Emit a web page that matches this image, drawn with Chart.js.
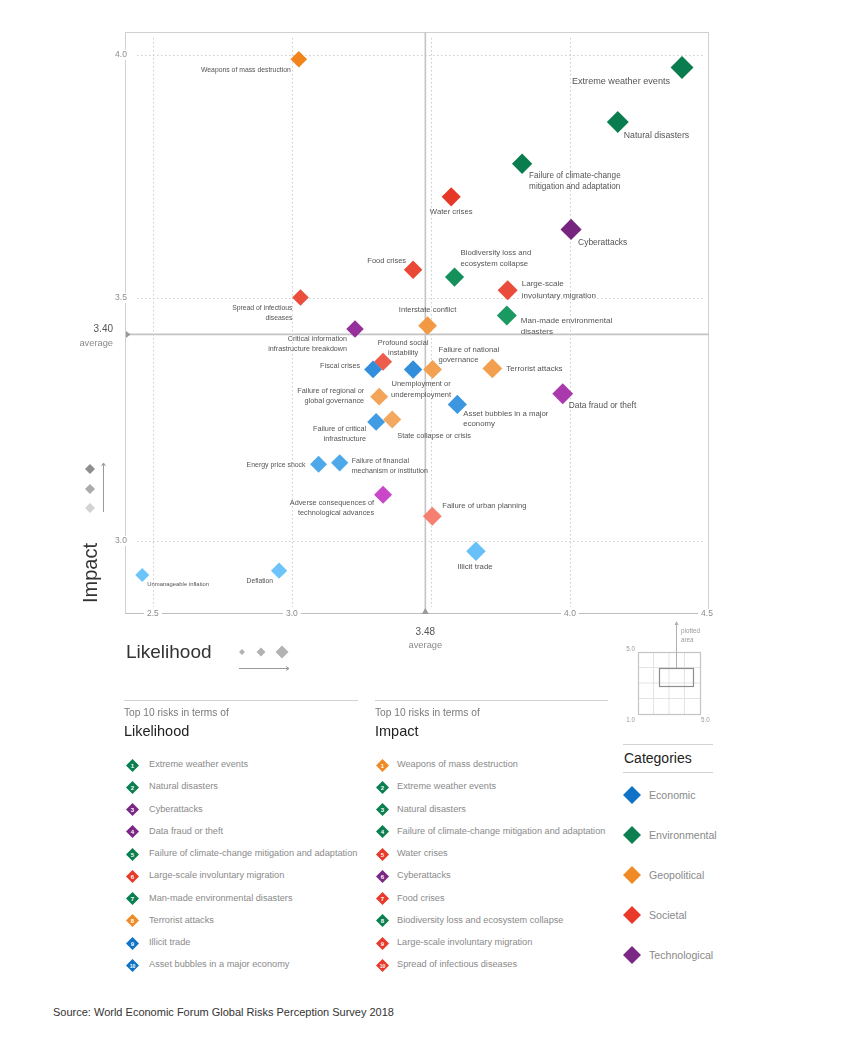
<!DOCTYPE html>
<html>
<head>
<meta charset="utf-8">
<script src="https://cdn.jsdelivr.net/npm/chart.js@4.4.0/dist/chart.umd.min.js"></script>
<style>
  body { margin: 0; background: #fff; font-family: "Liberation Sans", Arial, sans-serif; }
  #page { position: relative; width: 850px; height: 1047px; overflow: hidden; background: #fff; }
  #chart { position: absolute; left: 0; top: 0; }
  .abs { position: absolute; white-space: nowrap; line-height: 1; }
  .rule { position: absolute; height: 0; border-top: 1px solid #d2d2d2; }
  .mid { transform: translateY(-50%); }
</style>
</head>
<body>
<div id="page">
  <canvas id="chart" width="850" height="700"></canvas>

  <!-- small key showing which part of the 1-5 range is plotted -->
  <svg class="abs" style="left:0;top:0" width="850" height="740">
    <g stroke="#e3e3e3" stroke-width="1">
      <line x1="653.5" y1="652" x2="653.5" y2="714" />
      <line x1="669" y1="652" x2="669" y2="714" />
      <line x1="684.5" y1="652" x2="684.5" y2="714" />
      <line x1="638" y1="667.5" x2="700" y2="667.5" />
      <line x1="638" y1="683" x2="700" y2="683" />
      <line x1="638" y1="698.5" x2="700" y2="698.5" />
    </g>
    <rect x="638.5" y="652.5" width="62" height="62" fill="none" stroke="#c4c4c4" stroke-width="1.2" />
    <rect x="659.5" y="668.5" width="34" height="18" fill="none" stroke="#8e8e8e" stroke-width="1.2" />
    <line x1="676.5" y1="624" x2="676.5" y2="668" stroke="#b0b0b0" stroke-width="1" />
    <polygon points="674.5,625 678.5,625 676.5,621" fill="#b0b0b0" />
    <g font-family="Liberation Sans, Arial, sans-serif" font-size="6.3" fill="#9a9a9a">
      <text x="681" y="633">plotted</text>
      <text x="681" y="642">area</text>
      <text x="635" y="651" text-anchor="end">5.0</text>
      <text x="635" y="722" text-anchor="end">1.0</text>
      <text x="701" y="722">5.0</text>
    </g>
  </svg>

  <div class="rule" style="left:124px;top:700px;width:234px"></div>
  <div class="rule" style="left:375px;top:700px;width:233px"></div>
  <div class="abs mid" style="left:124px;top:713px;font-size:10.2px;color:#7a7a7a">Top 10 risks in terms of</div>
  <div class="abs mid" style="left:375px;top:713px;font-size:10.2px;color:#7a7a7a">Top 10 risks in terms of</div>
  <div class="abs mid" style="left:124px;top:731px;font-size:14.5px;color:#222">Likelihood</div>
  <div class="abs mid" style="left:375px;top:731px;font-size:14.5px;color:#222">Impact</div>

  <div class="rule" style="left:623px;top:744px;width:90px"></div>
  <div class="abs mid" style="left:624px;top:758px;font-size:14px;color:#222">Categories</div>
  <div class="rule" style="left:623px;top:772px;width:90px"></div>

  <div class="abs mid" style="left:53px;top:1012px;font-size:11px;color:#333">Source: World Economic Forum Global Risks Perception Survey 2018</div>
</div>

<script>
// ---- data ----
const risks = [
  "Weapons of mass destruction", "Extreme weather events", "Natural disasters",
  "Failure of climate-change mitigation and adaptation", "Water crises", "Cyberattacks",
  "Food crises", "Biodiversity loss and ecosystem collapse", "Large-scale involuntary migration",
  "Spread of infectious diseases", "Man-made environmental disasters", "Interstate conflict",
  "Critical information infrastructure breakdown", "Profound social instability", "Fiscal crises",
  "Unemployment or underemployment", "Failure of national governance", "Terrorist attacks",
  "Data fraud or theft", "Failure of regional or global governance", "Asset bubbles in a major economy",
  "Failure of critical infrastructure", "State collapse or crisis", "Energy price shock",
  "Failure of financial mechanism or institution", "Adverse consequences of technological advances",
  "Failure of urban planning", "Illicit trade", "Deflation", "Unmanageable inflation"
];
const likelihood = [
  3.025, 4.403, 4.172, 3.828, 3.573, 4.004, 3.436, 3.585, 3.776, 3.031,
  3.773, 3.488, 3.227, 3.328, 3.292, 3.436, 3.506, 3.721, 3.974, 3.314,
  3.595, 3.303, 3.361, 3.096, 3.172, 3.328, 3.505, 3.662, 2.954, 2.462
];
const impact = [
  3.991, 3.974, 3.862, 3.776, 3.708, 3.641, 3.558, 3.543, 3.516, 3.501,
  3.464, 3.443, 3.436, 3.369, 3.353, 3.353, 3.353, 3.355, 3.303, 3.297,
  3.281, 3.245, 3.250, 3.158, 3.161, 3.095, 3.051, 2.979, 2.939, 2.930
];
const category = [
  "Geopolitical", "Environmental", "Environmental", "Environmental", "Societal", "Technological",
  "Societal", "Environmental", "Societal", "Societal", "Environmental", "Geopolitical",
  "Technological", "Societal", "Economic", "Economic", "Geopolitical", "Geopolitical",
  "Technological", "Geopolitical", "Economic", "Economic", "Geopolitical", "Economic",
  "Economic", "Technological", "Societal", "Economic", "Economic", "Economic"
];
const categories = ["Economic", "Environmental", "Geopolitical", "Societal", "Technological"];
const xTicks = [2.5, 3.0, 4.0, 4.5];
const xGrid = [2.5, 3.0, 3.5, 4.0];
const yTicks = [3.0, 3.5, 4.0];
const avgLikelihood = 3.48;
const avgImpact = 3.425;      // where the line sits in the picture
const avgImpactText = "3.40"; // what it is labelled

// ---- styles ----
const FONT = '"Liberation Sans", Arial, sans-serif';
const baseColor = {
  Economic: "#0f72c6", Environmental: "#0b7f50", Geopolitical: "#ef8a26",
  Societal: "#e8392a", Technological: "#7a2883"
};
const shadeRange = {
  Economic: ["#005fc0", "#6cc4fa"],
  Environmental: ["#0a7d4e", "#3cd68a"],
  Geopolitical: ["#f2841c", "#f3c08e"],
  Societal: ["#e63826", "#f78a7c"],
  Technological: ["#6e1f78", "#e050dc"]
};

function hexToRgb(h) {
  const n = parseInt(h.slice(1), 16);
  return [(n >> 16) & 255, (n >> 8) & 255, n & 255];
}

// darker = higher impact
function shade(cat, imp) {
  const t = Math.min(1, Math.max(0, (3.7 - imp) / 0.75));
  const [a, b] = shadeRange[cat].map(hexToRgb);
  const c = a.map((v, k) => Math.round(v + (b[k] - v) * t));
  return `rgb(${c[0]},${c[1]},${c[2]})`;
}

// bigger = more likely
const markerRadius = (x) => 7 + (x - 2.46) * 2.3;
const labelSize = (x) => 5.9 + (x - 2.46) * 1.65;

// where each label sits: [align, dx, dy, words on first line]
const labelPlacement = {
  "Weapons of mass destruction": ["right", -8, 11],
  "Extreme weather events": ["right", -12, 14],
  "Natural disasters": ["left", 6, 14],
  "Failure of climate-change mitigation and adaptation": ["left", 7, 12, 3],
  "Water crises": ["center", 0, 15],
  "Cyberattacks": ["left", 7, 13],
  "Food crises": ["right", -7, -9],
  "Biodiversity loss and ecosystem collapse": ["left", 6, -24, 3],
  "Large-scale involuntary migration": ["left", 14, -6, 1],
  "Spread of infectious diseases": ["right", -8, 11, 3],
  "Man-made environmental disasters": ["left", 14, 5, 2],
  "Interstate conflict": ["center", 0, -16],
  "Critical information infrastructure breakdown": ["right", -8, 10, 2],
  "Profound social instability": ["center", 20, -19, 2],
  "Fiscal crises": ["right", -13, -3],
  "Unemployment or underemployment": ["center", 8, 15, 2],
  "Failure of national governance": ["left", 6, -20, 3],
  "Terrorist attacks": ["left", 14, 0],
  "Data fraud or theft": ["left", 6, 12],
  "Failure of regional or global governance": ["right", -15, -6, 4],
  "Asset bubbles in a major economy": ["left", 6, 9, 5],
  "Failure of critical infrastructure": ["right", -10, 7, 3],
  "State collapse or crisis": ["left", 5, 16],
  "Energy price shock": ["right", -13, 1],
  "Failure of financial mechanism or institution": ["left", 12, -2, 3],
  "Adverse consequences of technological advances": ["right", -9, 8, 3],
  "Failure of urban planning": ["left", 10, -10],
  "Illicit trade": ["center", -1, 16],
  "Deflation": ["right", -6, 10],
  "Unmanageable inflation": ["left", 5, 9]
};

function line(ctx, x1, y1, x2, y2) {
  ctx.beginPath();
  ctx.moveTo(x1, y1);
  ctx.lineTo(x2, y2);
  ctx.stroke();
}

function diamondPath(ctx, x, y, r) {
  ctx.beginPath();
  ctx.moveTo(x, y - r);
  ctx.lineTo(x + r, y);
  ctx.lineTo(x, y + r);
  ctx.lineTo(x - r, y);
  ctx.closePath();
}

function boxedText(ctx, text, x, y) {
  const w = ctx.measureText(text).width;
  ctx.fillStyle = "#fff";
  ctx.fillRect(x - w / 2 - 3, y - 5, w + 6, 10);
  ctx.fillStyle = "#8c8c8c";
  ctx.fillText(text, x, y);
}

// frame, grid, average lines and tick labels
const backdrop = {
  id: "backdrop",
  beforeDatasetsDraw(chart) {
    const { ctx, chartArea: a, scales: { x, y } } = chart;
    ctx.save();
    ctx.lineWidth = 1;
    ctx.strokeStyle = "#cdcdcd";
    ctx.setLineDash([1.5, 2.5]);
    xGrid.forEach(v => {
      const px = Math.round(x.getPixelForValue(v)) + 0.5;
      line(ctx, px, a.top + 6, px, a.bottom - 6);
    });
    yTicks.forEach(v => {
      const py = Math.round(y.getPixelForValue(v)) + 0.5;
      line(ctx, a.left + 12, py, a.right - 6, py);
    });
    ctx.setLineDash([]);

    ctx.strokeStyle = "#d0d0d0";
    ctx.strokeRect(a.left + 0.5, a.top + 0.5, a.right - a.left - 1, a.bottom - a.top);
    ctx.strokeStyle = "#bdbdbd";
    line(ctx, a.left, a.bottom + 0.5, a.right, a.bottom + 0.5);

    // averages
    const ax = x.getPixelForValue(avgLikelihood);
    const ay = y.getPixelForValue(avgImpact);
    ctx.strokeStyle = "#c4c4c4";
    ctx.lineWidth = 1.6;
    line(ctx, ax, a.top, ax, a.bottom);
    line(ctx, a.left, ay, a.right, ay);

    ctx.font = `8.5px ${FONT}`;
    ctx.textAlign = "center";
    ctx.textBaseline = "middle";
    yTicks.forEach(v => boxedText(ctx, v.toFixed(1), a.left - 4, y.getPixelForValue(v)));
    xTicks.forEach(v => boxedText(ctx, v.toFixed(1), Math.min(x.getPixelForValue(v), a.right - 2), a.bottom + 1));

    ctx.fillStyle = "#9a9a9a";
    ctx.beginPath();
    ctx.moveTo(a.left + 1, ay - 3.5);
    ctx.lineTo(a.left + 5.5, ay);
    ctx.lineTo(a.left + 1, ay + 3.5);
    ctx.fill();
    ctx.beginPath();
    ctx.moveTo(ax - 3.5, a.bottom + 1);
    ctx.lineTo(ax + 3.5, a.bottom + 1);
    ctx.lineTo(ax, a.bottom - 5);
    ctx.fill();
    ctx.restore();
  },

  afterDatasetsDraw(chart) {
    const { ctx } = chart;
    ctx.save();
    ctx.fillStyle = "#555";
    ctx.textBaseline = "middle";
    chart.data.datasets.forEach((ds, di) => {
      const meta = chart.getDatasetMeta(di);
      meta.data.forEach((pt, i) => {
        const d = ds.data[i];
        const [align, dx, dy, brk] = labelPlacement[d.name];
        const fs = labelSize(d.x);
        const words = d.name.split(" ");
        const lines = brk ? [words.slice(0, brk).join(" "), words.slice(brk).join(" ")] : [d.name];
        ctx.font = `${fs.toFixed(2)}px ${FONT}`;
        ctx.textAlign = align;
        lines.forEach((t, k) => ctx.fillText(t, pt.x + dx, pt.y + dy + k * fs * 1.4));
      });
    });
    ctx.restore();
  },

  afterDraw(chart) {
    const { ctx, chartArea: a, scales: { x, y } } = chart;
    const ax = x.getPixelForValue(avgLikelihood);
    const ay = y.getPixelForValue(avgImpact);
    ctx.save();
    ctx.textBaseline = "middle";

    // average captions
    ctx.textAlign = "right";
    ctx.fillStyle = "#555";
    ctx.font = `10px ${FONT}`;
    ctx.fillText(avgImpactText, a.left - 12, ay - 5);
    ctx.fillStyle = "#8a8a8a";
    ctx.font = `9.3px ${FONT}`;
    ctx.fillText("average", a.left - 12, ay + 9);
    ctx.textAlign = "center";
    ctx.fillStyle = "#555";
    ctx.font = `10px ${FONT}`;
    ctx.fillText(avgLikelihood.toFixed(2), ax, a.bottom + 19);
    ctx.fillStyle = "#8a8a8a";
    ctx.font = `9.3px ${FONT}`;
    ctx.fillText("average", ax, a.bottom + 32);

    // axis titles
    ctx.fillStyle = "#333";
    ctx.font = `19px ${FONT}`;
    ctx.textAlign = "left";
    ctx.fillText("Likelihood", 126, 653);
    ctx.save();
    ctx.translate(91, 573);
    ctx.rotate(-Math.PI / 2);
    ctx.textAlign = "center";
    ctx.font = `20px ${FONT}`;
    ctx.fillText("Impact", 0, 0);
    ctx.restore();

    // size key (likelihood)
    ctx.fillStyle = "#b2b2b2";
    [[242, 3], [261, 4.5], [282, 6.5]].forEach(([cx, r]) => { diamondPath(ctx, cx, 652, r); ctx.fill(); });
    ctx.strokeStyle = "#9a9a9a";
    ctx.lineWidth = 1;
    line(ctx, 239, 668.5, 289, 668.5);
    line(ctx, 286, 666.5, 289, 668.5);
    line(ctx, 286, 670.5, 289, 668.5);

    // shade key (impact)
    [["#8e8e8e", 469], ["#ababab", 489], ["#d3d3d3", 508]].forEach(([c, cy]) => {
      ctx.fillStyle = c;
      diamondPath(ctx, 90, cy, 5);
      ctx.fill();
    });
    line(ctx, 103.5, 463, 103.5, 512);
    line(ctx, 101.5, 466, 103.5, 463);
    line(ctx, 105.5, 466, 103.5, 463);
    ctx.restore();
  }
};

const idx = risks.map((_, i) => i);
const datasets = categories.map(cat => ({
  label: cat,
  data: idx.filter(i => category[i] === cat)
    .map(i => ({ x: likelihood[i], y: impact[i], name: risks[i] })),
  pointStyle: "rectRot",
  pointRadius: (c) => markerRadius(c.raw.x),
  pointHoverRadius: (c) => markerRadius(c.raw.x),
  pointBackgroundColor: (c) => shade(cat, c.raw.y),
  pointBorderWidth: 0,
  showLine: false
}));

Chart.defaults.font.family = FONT;
new Chart(document.getElementById("chart"), {
  type: "scatter",
  data: { datasets },
  options: {
    responsive: false,
    animation: false,
    events: [],
    layout: { padding: { left: 125, right: 141, top: 32, bottom: 87 } },
    scales: {
      x: { type: "linear", display: false, min: 2.4, max: 4.5 },
      y: { type: "linear", display: false, min: 2.852, max: 4.047 }
    },
    plugins: { legend: { display: false }, tooltip: { enabled: false } }
  },
  plugins: [backdrop]
});

// ---- top-10 lists and category key (built from the same arrays) ----
const page = document.getElementById("page");

function diamondSvg(r, color, num) {
  const s = r * 2;
  const txt = num == null ? "" :
    `<text x="${r}" y="${r + 2}" text-anchor="middle" font-size="${num > 9 ? 5 : 6}" font-weight="bold" fill="#fff" font-family="Liberation Sans, Arial, sans-serif">${num}</text>`;
  return `<svg width="${s}" height="${s}"><polygon points="${r},0 ${s},${r} ${r},${s} 0,${r}" fill="${color}"/>${txt}</svg>`;
}

function add(html, left, top, style) {
  const d = document.createElement("div");
  d.className = "abs";
  d.style.cssText = `left:${left}px;top:${top}px;${style || ""}`;
  d.innerHTML = html;
  page.appendChild(d);
  return d;
}

function topList(values, iconX, textX) {
  idx.slice().sort((a, b) => values[b] - values[a]).slice(0, 10).forEach((i, k) => {
    const cy = 765 + k * 22.25;
    add(diamondSvg(6.5, baseColor[category[i]], k + 1), iconX - 6.5, cy - 6.5, "line-height:0");
    add(risks[i], textX, cy, "font-size:9.2px;color:#8a8a8a;transform:translateY(-50%)");
  });
}
topList(likelihood, 132, 149);
topList(impact, 382, 397);

categories.forEach((cat, k) => {
  const cy = 795 + k * 40;
  add(diamondSvg(9, baseColor[cat]), 623, cy - 9, "line-height:0");
  add(cat, 649, cy, "font-size:10.6px;color:#8a8a8a;transform:translateY(-50%)");
});
</script>
</body>
</html>
